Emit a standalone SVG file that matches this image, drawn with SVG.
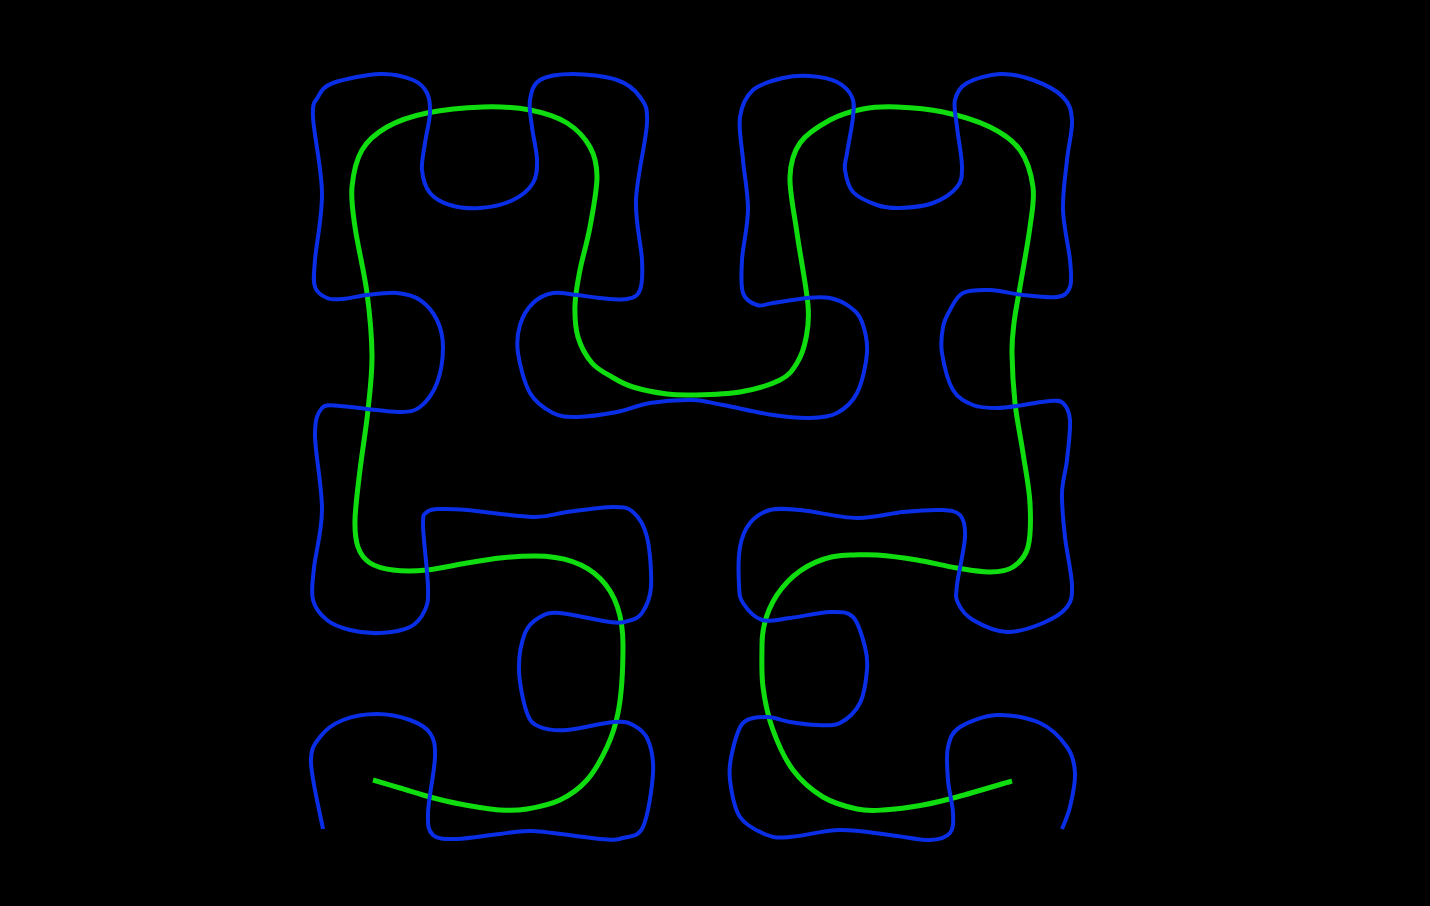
<svg xmlns="http://www.w3.org/2000/svg" width="1430" height="906" viewBox="0 0 1430 906">
<style>
.curve{fill:none;stroke-linejoin:round}
.blue{stroke:#0a2ee6;stroke-width:4}
.green{stroke:#10dd10;stroke-width:5;stroke-linecap:butt}
</style>
<rect width="1430" height="906" fill="#000"/>
<g id="connectors">
<path id="green-curve" class="curve green" d="M373,780 C377.5,781.3 390.5,785.2 400,788 S420,794.3 430,797 S448.3,801.8 460,804 S488.8,809.2 500,810 S517,810.7 527,809 S550,804.8 560,800 S579.2,788.8 587,780 S601.8,758.2 607,747 S615.2,727 618,713 S623,672 623,645 C623,587 592.2,556 535,556 C524,556 511.3,556.8 500,558 S479.2,561 467,563 S439.3,568.8 427,570 S402.5,571.2 393,570 S375.8,566.8 370,563 S360.5,554.2 358,547 S354.7,532.8 355,520 S357.8,488.3 360,470 S366,429.2 368,410 S372.2,374.5 372,355 S369.8,314.3 367,293 S357.5,244.7 355,227 S350.8,199.8 352,187 S356.2,160 362,150 S376.2,133.2 387,127 S411,116.3 427,113 S465.8,107.5 483,107 S516,107.3 530,110 S557,116.8 567,123 S585,138 590,147 S597,163.7 597,177 S592.8,211.5 590,227 S582.5,257 580,270 S575.3,293.8 575,305 S575.2,327.3 578,337 S586.3,356.3 592,363 S605.2,373 612,377 S623.8,384.2 633,387 S657.2,392.7 667,394 S679.8,395.3 692,395 S725.3,394.5 740,392 S770.5,384.8 780,380 S792.7,370 797,363 S804.2,347.7 806,338 S809.5,322.5 808,305 S800,254.3 797,233 S789.5,192 790,177 S793.3,152.5 800,143 S819.5,125.7 830,120 S851.8,111.2 863,109 S883.7,106.5 897,107 S927.5,108.7 943,112 S977.2,120.7 990,127 S1012.8,140 1020,150 S1031.3,174.2 1033,187 S1032.2,210.3 1030,227 S1022.7,271 1020,287 S1015.3,312 1014,323 S1011.8,339.7 1012,353 S1013.2,386.3 1015,403 S1020.5,436.3 1023,453 S1029.2,487.3 1030,503 S1030.8,536.3 1028,547 S1019.3,562.8 1013,567 S999.3,571.8 990,572 S969.2,570 957,568 S930.3,562.2 917,560 S888.2,555.8 877,555 S859,555 850,555 C801.6,555 762,595.5 762,645 C762,659 761.2,673.2 763,687 S768,716.2 773,730 S784.7,758.8 793,770 S812.3,790.5 823,797 S847,806.8 857,809 S872,810.7 883,810 S910.7,807.2 923,805 S942.2,801 957,797 S1002.8,783.7 1012,781"/>
<path id="blue-curve" class="curve blue" d="M323,829 C321,818 311.5,778.3 311,763 S314.7,744.2 320,737 S333.5,723.8 343,720 S365.8,714 377,714 S401.2,716.8 410,720 S425.8,726.8 430,733 S435.3,743.7 435,757 S428.3,800 428,813 S428.2,830.7 433,835 S445.8,839.2 457,839 S487.3,835.3 500,834 S516.3,830.2 533,831 S585,837.8 600,839 S615.8,840 623,838 S638,837.8 643,827 S652.2,787.5 653,773 S651.3,748 648,740 S638.8,728 633,725 S624,721.2 613,722 S579.2,729.2 567,730 S546.7,729.8 540,727 S530.5,722.5 527,713 S519.3,683.3 519,670 S521.5,641.8 525,633 S534.2,620.3 540,617 S548.3,612.2 560,613 S598.7,620.7 610,622 S622.7,622.5 628,621 S638.2,618.7 642,613 S650.2,599.7 651,587 S650,549.5 647,537 S638.7,517 633,512 S624,507 613,507 S580.3,510.3 567,512 S549.7,517.3 533,517 S482.5,511.3 467,510 S446.7,508.7 440,509 S429.8,509.3 427,512 S422.8,512.5 423,525 S427.7,572.8 428,587 S428,603.3 425,610 S417.5,623.2 410,627 S390,632.5 380,633 S358.8,632.2 350,630 S333.2,625 327,620 S315.2,608.7 313,600 S312.5,583 314,568 S321.8,532.2 322,510 S315,452 315,435 S317.8,412.8 322,408 S332.5,405.8 340,406 S357,408 367,409 S391.2,412.3 400,412 S413.8,411.8 420,407 S433.2,393 437,383 S443,357.5 443,347 S440.8,327.8 437,320 S426.7,304.5 420,300 S405.8,293.8 397,293 S376,294 367,295 S349.7,298.5 343,299 S331.7,300 327,298 S317,293.3 315,287 S313.8,275.7 315,260 S322.3,216.8 322,193 S313.7,133 313,117 S314.7,102.7 318,97 S322.7,86.8 333,83 S366.7,74.5 380,74 S405.2,76.8 413,80 S424.2,87.5 427,93 S430.3,104.7 430,113 S426.3,133.5 425,143 S421.2,161.7 422,170 S425.3,187.2 430,193 S441.7,202.5 450,205 S469.5,208.8 480,208 S504.2,204.2 513,200 S529,189.7 533,183 S537.2,169.3 537,160 S533.2,137 532,127 S528.7,107.8 530,100 S532.8,84.3 540,80 S560.2,74 573,74 S605.8,76.2 617,80 S635,89.8 640,97 S647.7,105.8 647,123 S636.8,177.2 636,200 S641.3,245 642,260 S642.5,283.5 640,290 S633.7,297.7 627,299 S608.3,298.7 600,298 S584.8,295.8 577,295 S560.3,291.7 553,293 S538.5,297.7 533,303 S522.5,316.7 520,325 S516.3,341.7 518,353 S524.2,383 530,393 S545.2,409 553,413 S566.3,417.2 577,417 S604.8,414.3 617,412 S637.5,405 650,403 S679.8,399.7 692,400 S709.5,402.5 723,405 S758.5,412.8 773,415 S799.3,418.3 810,418 S829.2,417.2 837,413 S852,403 857,393 S866.2,364.8 867,353 S864.8,329.7 862,322 S855.3,311 850,307 S837.2,299.5 830,298 S816.5,297.2 807,298 S781.3,301.8 773,303 S762,306.7 757,305 S745.5,300.5 743,293 S741.2,273.8 742,260 S747.8,226.7 748,210 S744.3,175.5 743,160 S738.3,128.7 740,117 S745.8,96.5 753,90 S773.5,80.3 783,78 S801,75.3 810,76 S830,78.5 837,82 S849.3,91.2 852,97 S853.8,107.7 853,117 S848.3,144.2 847,153 S844,163.5 845,170 S847.7,186.2 853,192 S869.2,202.3 877,205 S890.7,208.3 900,208 S923.5,206.5 933,203 S952.2,193 957,187 S962,177 962,167 S958.2,138.2 957,127 S953.3,107.3 955,100 S959.5,87.3 967,83 S989,74.5 1000,74 S1022.5,76.2 1033,80 S1056.5,90.3 1063,97 S1071.3,109.5 1072,120 S1068.5,145 1067,160 S1062.5,193.3 1063,210 S1068.8,247.2 1070,260 S1072.2,280.8 1070,287 S1064.8,295.7 1057,297 S1034.2,296.2 1023,295 S1000,290.3 990,290 S969.7,289.7 963,293 S953.3,304.3 950,310 S944.3,319.8 943,327 S940.3,342.5 942,353 S947.8,381.3 953,390 S965.7,402 973,405 S988.7,408 997,408 S1014.2,406.2 1023,405 S1043.3,401.3 1050,401 S1059.7,399.8 1063,403 S1069.3,410.5 1070,420 S1068.3,447.8 1067,460 S1062.3,480.2 1062,493 S1063.3,521.7 1065,537 S1071.7,573.3 1072,585 S1071.8,600.7 1067,607 S1053,618.8 1043,623 S1018.7,632.5 1007,632 S981.2,624.8 973,620 S960.7,608.8 958,603 S955.8,596 957,585 S964.5,548.7 965,537 S964.2,519.5 960,515 S949.5,510.5 940,510 S916.8,510.7 903,512 S874.2,518.3 857,518 S814.5,511.3 800,510 S778.3,507.8 770,510 S755,516.8 750,523 S741.8,536.7 740,547 S738.5,575.7 739,585 S739.2,597.2 743,603 S754.2,617.5 762,620 S778.7,619.3 790,618 S819.5,612.2 830,612 S847.2,611.2 853,617 S862.7,638.2 865,647 S867.8,660.7 867,670 S864.5,694.2 860,703 S847.2,719.3 840,723 S825.3,725.2 817,725 S798.3,723.3 790,722 S774.8,716.8 767,717 S748.8,717 743,723 S734.2,743.5 732,753 S728.7,769.3 730,780 S733.8,807.8 740,817 S758.7,831.7 767,835 S777.8,837.8 790,837 S823.3,830.3 840,830 S875,833.3 890,835 S920,840.3 930,840 S946.2,837.5 950,833 S953.3,821.8 953,813 S948.8,791 948,780 S946,755.8 948,747 S951.8,732.3 960,727 S983.7,715.7 997,715 S1028.3,717.7 1040,723 S1061.2,738.7 1067,747 S1074.5,763 1075,773 S1072.2,797.7 1070,807 S1063.3,825.3 1062,829"/>
</g>
</svg>
